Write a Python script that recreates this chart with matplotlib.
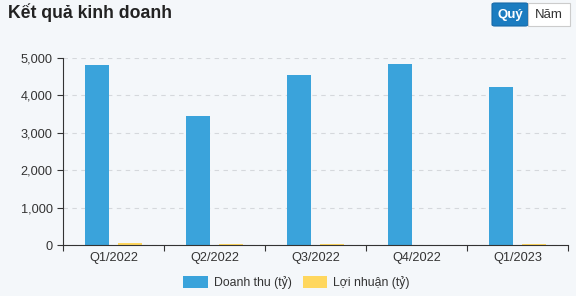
import matplotlib.pyplot as plt
import numpy as np
from matplotlib.patches import FancyBboxPatch, Rectangle

quarters = ['Q1/2022', 'Q2/2022', 'Q3/2022', 'Q4/2022', 'Q1/2023']
revenue = [4810, 3450, 4550, 4840, 4230]
profit = [60, 20, 40, 5, 25]

bg = '#f4f7fa'
blue = '#3aa3db'
yellow = '#ffd75e'

plt.rcParams['font.family'] = ['Liberation Sans', 'DejaVu Sans']

fig = plt.figure(figsize=(5.76, 2.96), dpi=100, facecolor=bg)
ax = fig.add_axes([63 / 576, 51 / 296, 505 / 576, 187 / 296], facecolor=bg)

x = np.arange(len(quarters))
w = 0.24
ax.bar(x - 0.16, revenue, w, color=blue, label='Doanh thu (tỷ)')
ax.bar(x + 0.16, profit, w, color=yellow, label='Lợi nhuận (tỷ)')

ax.set_xlim(-0.5, len(quarters) - 0.5)
ax.set_ylim(0, 5000)
ax.set_yticks(range(0, 5001, 1000))
ax.set_yticklabels([f'{v:,}' for v in range(0, 5001, 1000)])
ax.set_xticks(np.arange(-0.5, len(quarters), 1), minor=False)
ax.set_xticklabels([''] * (len(quarters) + 1))
ax.set_xticks(x, minor=True)
ax.set_xticklabels(quarters, minor=True)
ax.tick_params(axis='x', which='minor', length=0, pad=5, labelsize=9.2, colors='#333333')
ax.tick_params(axis='x', which='major', length=4, color='#333333')
ax.tick_params(axis='y', length=4, color='#333333', labelsize=9.2, labelcolor='#333333')
ax.yaxis.grid(True, linestyle=(0, (4, 4)), color='#d5d8dc', linewidth=0.8)
ax.set_axisbelow(True)
for s in ['top', 'right']:
    ax.spines[s].set_visible(False)
ax.spines['left'].set_color('#333333')
ax.spines['bottom'].set_color('#333333')

fig.legend(loc='lower center', bbox_to_anchor=(0.515, -0.015), ncol=2, frameon=False,
           fontsize=8.8, handlelength=2.0, handleheight=1.1, columnspacing=0.9,
           handletextpad=0.5, labelcolor='#333333')

fig.text(8 / 576, 1 - 13 / 296, 'Kết quả kinh doanh', fontsize=12.7, fontweight='bold',
         color='#222222', va='center', ha='left')

# Quý / Năm toggle buttons
fig.patches.append(FancyBboxPatch((492 / 576, 1 - 26 / 296), 36 / 576, 23 / 296,
                                  boxstyle='round,pad=0,rounding_size=0.005',
                                  transform=fig.transFigure, facecolor='#1b7cc0',
                                  edgecolor='#1769a8', linewidth=0.8))
fig.patches.append(Rectangle((528 / 576, 1 - 26 / 296), 42 / 576, 23 / 296,
                             transform=fig.transFigure, facecolor='white',
                             edgecolor='#cccccc', linewidth=0.8))
fig.text(510 / 576, 1 - 15 / 296, 'Quý', fontsize=9.5, fontweight='bold', color='white',
         ha='center', va='center')
fig.text(549 / 576, 1 - 15 / 296, 'Năm', fontsize=9.5, color='#333333',
         ha='center', va='center')

fig.savefig('out.png', dpi=100, facecolor=bg)
